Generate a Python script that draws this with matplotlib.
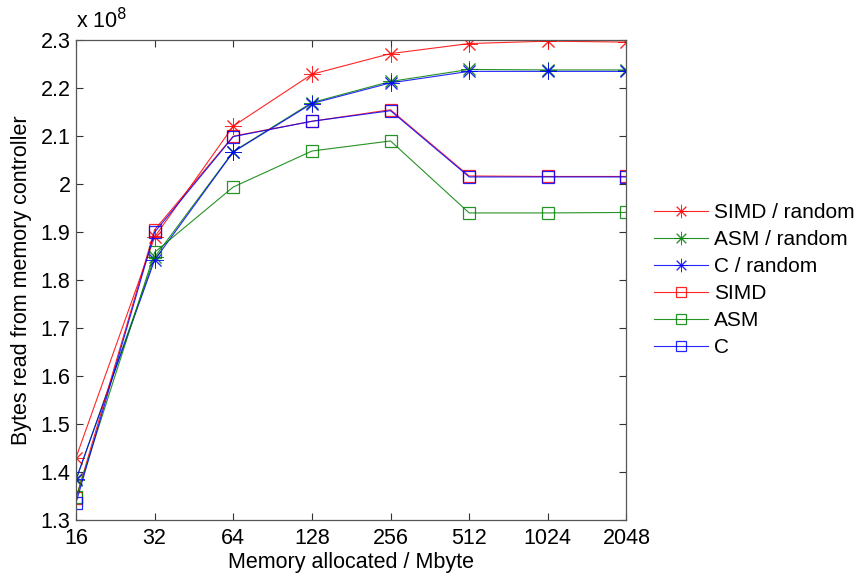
import matplotlib
matplotlib.use("Agg")
import matplotlib.pyplot as plt

plt.rcParams['font.family'] = ['Liberation Sans', 'DejaVu Sans']

# memory sizes (Mbyte) and bytes read (x 1e8)
mem_labels = ['16', '32', '64', '128', '256', '512', '1024', '2048']
simd_random = [1.430, 1.890, 2.121, 2.229, 2.272, 2.293, 2.298, 2.296]
asm_random = [1.383, 1.848, 2.068, 2.170, 2.214, 2.239, 2.238, 2.238]
c_random = [1.385, 1.842, 2.067, 2.168, 2.211, 2.235, 2.235, 2.235]
simd = [1.345, 1.905, 2.100, 2.131, 2.155, 2.017, 2.016, 2.016]
asm = [1.347, 1.858, 1.994, 2.069, 2.090, 1.940, 1.940, 1.941]
c = [1.336, 1.900, 2.099, 2.131, 2.153, 2.015, 2.015, 2.015]
y_ticks = [1.3, 1.4, 1.5, 1.6, 1.7, 1.8, 1.9, 2.0, 2.1, 2.2, 2.3]
y_ticklabels = ['1.3', '1.4', '1.5', '1.6', '1.7', '1.8', '1.9', '2', '2.1', '2.2', '2.3']

xs = list(range(len(mem_labels)))
fs = 15.5

fig = plt.figure(figsize=(8.64, 5.74), dpi=100)
ax = fig.add_axes([0.088, 0.094, 0.637, 0.836])

red, green, blue = '#ff0000', '#008000', '#0000ff'
star = (8, 2, 0)
series = [
    (simd_random, red, star, 'SIMD / random'),
    (asm_random, green, star, 'ASM / random'),
    (c_random, blue, star, 'C / random'),
    (simd, red, 's', 'SIMD'),
    (asm, green, 's', 'ASM'),
    (c, blue, 's', 'C'),
]
for vals, col, mk, lab in series:
    ms = 12 if mk == star else 8.5
    mew = 0.7 if mk == star else 0.9
    ax.plot(xs, vals, color=col, marker=mk, markersize=ms, markerfacecolor='none',
            markeredgecolor=col, markeredgewidth=mew, linewidth=0.8, alpha=0.85, label=lab)

ax.set_xlim(0, len(mem_labels) - 1)
ax.set_ylim(1.3, 2.3)
ax.set_xticks(xs)
ax.set_xticklabels(mem_labels)
ax.set_yticks(y_ticks)
ax.set_yticklabels(y_ticklabels)
ax.tick_params(direction='in', top=True, right=True, length=5, width=0.8,
               labelsize=fs, color='#333333')
ax.tick_params(axis='x', pad=6)
ax.tick_params(axis='y', pad=4)
for s in ax.spines.values():
    s.set_color('#555555')
    s.set_linewidth(0.9)

ax.set_xlabel('Memory allocated / Mbyte', fontsize=fs, labelpad=2)
ax.set_ylabel('Bytes read from memory controller', fontsize=fs, labelpad=6)
ax.text(0.0, 1.015, r'x 10$^{8}$', transform=ax.transAxes, fontsize=fs,
        ha='left', va='bottom')

ax.legend(loc='center left', bbox_to_anchor=(1.035, 0.50), frameon=False,
          fontsize=15, handlelength=2.6, handletextpad=0.3, labelspacing=0.38,
          borderaxespad=0, markerscale=0.8)

fig.savefig('out.png', dpi=100)
